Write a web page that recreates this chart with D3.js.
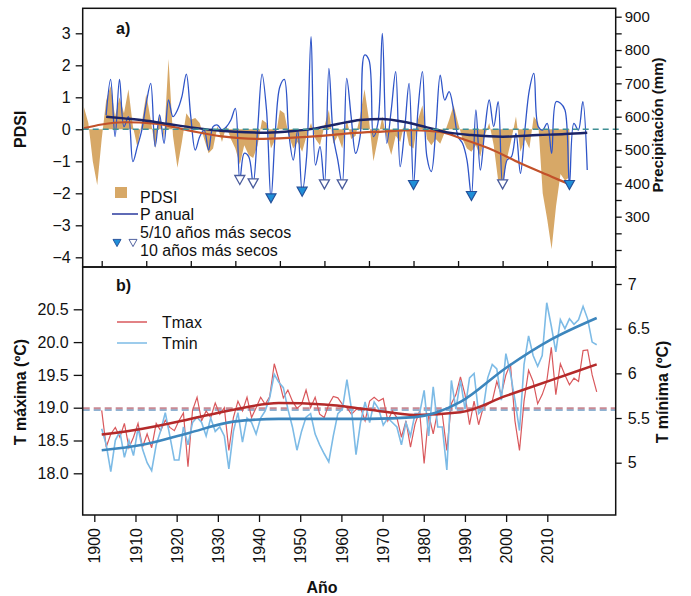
<!DOCTYPE html>
<html><head><meta charset="utf-8">
<script src="https://cdn.jsdelivr.net/npm/d3@7"></script>
<style>body{margin:0;background:#fff} svg{display:block} text{font-family:"Liberation Sans",Arial,sans-serif;fill:#111}</style>
</head><body><svg id="c" width="691" height="596"></svg>
<script>
// ---------------- DATA ----------------
const precipYears = d3.range(1901, 2010);
const precip = [605,712,540,712,570,600,465,510,560,640,700,510,605,520,650,600,620,660,728,600,
  500,540,560,500,570,575,560,570,590,625,410,490,480,400,560,728,620,355,560,690,
  712,550,470,560,375,480,840,455,510,397,745,540,470,397,715,600,490,540,785,770,
  540,580,850,520,620,735,450,560,700,395,620,735,480,435,560,725,650,675,620,540,
  520,470,362,620,440,560,650,570,645,397,470,480,550,430,560,680,730,570,560,580,
  490,645,640,620,395,580,560,645,440];
const pdsiYears = d3.range(1896, 2006);
const pdsi = [0.7,0.2,-1.0,-1.75,-0.3,0.9,1.35,0.4,1.0,0.5,1.25,0.1,-0.55,0.2,1.1,0.3,-0.6,0.5,-0.3,2.2,
  -0.2,-1.2,-0.4,0.5,0.3,0.35,0.2,-0.3,-0.75,-0.6,0.1,-0.4,0.1,-0.3,-0.6,-1.1,-0.5,-0.8,-0.9,-0.5,
  0.3,0.2,-0.6,-0.3,0.6,0.5,-0.2,-0.6,-0.4,-0.7,-0.2,0.2,-0.3,-0.5,0.1,0.6,-0.45,-0.2,-0.6,0.3,
  -0.3,-0.2,0.4,1.25,0.3,-1.0,-0.3,0.4,-0.3,-0.8,-0.2,-0.4,0.2,-0.5,-0.6,0.3,0.75,-0.3,-0.5,-0.3,
  -0.45,-0.1,0.3,0.75,0.2,-0.3,-0.6,-0.7,-0.5,-0.85,-0.2,0.2,-0.5,-1.6,-1.7,-0.9,-0.3,0.4,-0.7,-0.3,
  -0.6,0.4,0.2,-2.0,-2.8,-3.75,-2.4,-1.4,-1.6,-1.5];
const driest5 = [1938,1945,1970,1983,2005];
const driest10 = [1931,1934,1950,1954,1990];
const pSmoothYears = [1901,1905,1910,1915,1920,1925,1930,1937,1943,1948,1953,1958,1963,1968,1973,1978,1983,1990,1998,2004,2009];
const pSmooth = [600,595,588,578,568,560,555,552,557,565,578,590,593,584,568,552,545,540,545,548,552];
const pdsiSmoothYears = [1896,1900,1905,1912,1920,1927,1935,1943,1950,1956,1963,1970,1976,1981,1987,1994,2001,2005];
const pdsiSmooth = [0.03,0.15,0.22,0.18,-0.05,-0.22,-0.3,-0.26,-0.2,-0.12,-0.07,-0.03,-0.08,-0.3,-0.6,-1.06,-1.48,-1.72];

const tYears = d3.range(1901, 2011);
const tmax = [18.96,18.4,18.6,18.7,18.55,18.76,18.39,18.55,18.76,18.4,18.6,18.39,18.76,18.65,18.81,18.7,18.65,18.8,18.92,18.1,
  18.96,19.16,18.8,18.95,18.85,19.07,18.9,19.0,18.35,18.85,19.1,18.95,19.16,18.85,19.0,19.16,19.05,19.17,19.67,19.43,
  19.15,19.27,19.1,18.99,19.05,19.27,19.0,19.16,18.9,18.85,19.05,19.17,19.15,19.05,19.0,18.9,18.97,19.0,18.8,19.1,
  19.16,19.1,19.14,18.8,18.95,18.85,18.55,18.8,18.4,18.75,18.95,18.15,18.9,18.6,18.95,18.9,18.35,19.06,19.2,19.47,
  19.2,18.74,19.1,18.74,19.0,19.05,19.1,19.4,19.2,19.5,19.67,18.8,18.35,19.1,19.57,19.4,19.06,19.2,19.4,19.92,
  19.2,19.67,19.5,19.35,19.45,19.4,19.87,19.88,19.5,19.24];
const tmin = [5.38,5.2,4.9,5.25,5.35,5.06,5.25,5.08,5.39,5.15,5.0,4.91,5.2,5.36,5.56,5.3,5.03,5.03,5.4,5.2,
  5.45,5.51,5.45,5.3,5.5,5.35,5.4,5.3,4.93,5.35,5.56,5.23,5.5,5.45,5.32,5.5,5.58,5.73,5.99,5.9,
  5.84,5.6,5.4,5.14,5.35,5.51,5.55,5.32,5.2,5.1,5.01,5.3,5.55,5.6,5.93,5.6,5.09,5.45,5.68,5.45,
  5.68,5.6,5.42,5.5,5.45,5.4,5.2,5.45,5.3,5.55,5.55,5.81,5.3,5.85,5.4,5.4,4.92,5.92,5.6,5.92,
  5.6,5.95,6.0,5.55,5.6,5.95,6.1,6.05,5.7,6.22,6.0,5.7,5.36,6.1,6.42,6.2,6.08,6.2,6.79,6.53,
  6.24,6.6,6.5,6.61,6.55,6.6,6.75,6.61,6.35,6.32];
const tSmoothYears = [1901,1910,1920,1930,1940,1950,1960,1970,1980,1990,2000,2010];
const tmaxSmooth = [18.59,18.68,18.82,18.97,19.07,19.05,18.97,18.89,18.93,19.18,19.42,19.66];
const tminSmooth = [5.14,5.2,5.33,5.46,5.49,5.49,5.49,5.51,5.68,6.06,6.38,6.62];
const tmaxMean = [18.99];
const tminMean = [5.59];

const pdsiTicks = [3,2,1,0,-1,-2,-3,-4];
const precipTicks = [300,400,500,600,700,800,900];
const precipMinorTicks = d3.range(200, 901, 50);
const tmaxTicks = [18.0,18.5,19.0,19.5,20.0,20.5];
const tminTicks = [5,5.5,6,6.5,7];
const yearTicks = d3.range(1900, 2011, 10);

// ---------------- LAYOUT ----------------
const svg = d3.select("#c");
const L = 82.7, R = 615.7, aTop = 8.3, mid = 267, bBot = 515;
const FS = 16;

const xa = d3.scaleLinear().domain([1900, 2010]).range([101.7, 591.7]);
const yD = d3.scaleLinear().domain([-4, 3]).range([257.3, 33.3]);
const yP = d3.scaleLinear().domain([200, 900]).range([250, 16.7]);
const xb = d3.scaleLinear().domain([1901, 2010]).range([101.7, 596.7]);
const xt = d3.scaleLinear().domain([1900, 2010]).range([94.3, 547.3]);
const yTx = d3.scaleLinear().domain([18, 20.5]).range([473.3, 309.3]);
const yTn = d3.scaleLinear().domain([5, 7]).range([462.7, 284]);

svg.append("defs").append("clipPath").attr("id","ca").append("rect")
  .attr("x",L).attr("y",aTop).attr("width",R-L).attr("height",mid-aTop);
svg.select("defs").append("clipPath").attr("id","cb").append("rect")
  .attr("x",L).attr("y",mid).attr("width",R-L).attr("height",bBot-mid);

// ---------- Panel a ----------
const ga = svg.append("g").attr("clip-path","url(#ca)");
const pd = pdsiYears.map((y,i)=>({y, v:pdsi[i]}));
ga.append("path").datum(pd)
  .attr("d", d3.area().x(d=>xa(d.y)).y0(yD(0)).y1(d=>yD(d.v)))
  .attr("fill","#d7a867");

svg.append("line").attr("x1",L).attr("x2",621).attr("y1",yD(0)).attr("y2",yD(0))
  .attr("stroke","#3f8f94").attr("stroke-width",1.4).attr("stroke-dasharray","6,4");

const pp = precipYears.map((y,i)=>({y, v:precip[i]}));
ga.append("path").datum(pp)
  .attr("d", d3.line().x(d=>xa(d.y)).y(d=>yP(d.v)).curve(d3.curveCatmullRom.alpha(0.5)))
  .attr("fill","none").attr("stroke","#2f55c8").attr("stroke-width",1.3);

ga.append("path").datum(pdsiSmoothYears.map((y,i)=>({y,v:pdsiSmooth[i]})))
  .attr("d", d3.line().x(d=>xa(d.y)).y(d=>yD(d.v)).curve(d3.curveMonotoneX))
  .attr("fill","none").attr("stroke","#c2512a").attr("stroke-width",2.2);

ga.append("path").datum(pSmoothYears.map((y,i)=>({y,v:pSmooth[i]})))
  .attr("d", d3.line().x(d=>xa(d.y)).y(d=>yP(d.v)).curve(d3.curveMonotoneX))
  .attr("fill","none").attr("stroke","#1b2468").attr("stroke-width",2.4);

const tri = "M-5,-4.5L5,-4.5L0,4.5Z";
const pOf = y => precip[precipYears.indexOf(y)];
ga.selectAll(".d10").data(driest10).join("path")
  .attr("d", tri).attr("transform", d=>`translate(${xa(d)},${yP(pOf(d))})`)
  .attr("fill","#fff").attr("stroke","#4a5c9c").attr("stroke-width",1.3);
ga.selectAll(".d5").data(driest5).join("path")
  .attr("d", tri).attr("transform", d=>`translate(${xa(d)},${yP(pOf(d))})`)
  .attr("fill","#1f8fd8").attr("stroke","#24509a").attr("stroke-width",1.2);

// axes panel a
svg.append("g").attr("transform",`translate(${L},0)`)
  .call(d3.axisLeft(yD).tickValues(pdsiTicks).tickSize(7).tickPadding(5).tickFormat(d3.format("d")));
svg.append("g").attr("class","rax").attr("transform",`translate(${R},0)`)
  .call(d3.axisRight(yP).tickValues(precipMinorTicks).tickSize(6).tickPadding(3)
    .tickFormat(d => precipTicks.includes(d) ? d : ""));
svg.append("g").attr("transform",`translate(0,${mid})`)
  .call(d3.axisTop(xa).tickValues(yearTicks).tickSize(6).tickFormat(""));

// ---------- Panel b ----------
const gb = svg.append("g").attr("clip-path","url(#cb)");
gb.append("line").attr("x1",L).attr("x2",R).attr("y1",yTn(tminMean[0])).attr("y2",yTn(tminMean[0]))
  .attr("stroke","#8fb2d2").attr("stroke-width",2).attr("stroke-dasharray","7,4");
gb.append("line").attr("x1",L).attr("x2",R).attr("y1",yTx(tmaxMean[0])).attr("y2",yTx(tmaxMean[0]))
  .attr("stroke","#c98a94").attr("stroke-width",2).attr("stroke-dasharray","7,4");

gb.append("path").datum(tYears.map((y,i)=>({y,v:tmax[i]})))
  .attr("d", d3.line().x(d=>xb(d.y)).y(d=>yTx(d.v)))
  .attr("fill","none").attr("stroke","#d9585c").attr("stroke-width",1.2);
gb.append("path").datum(tYears.map((y,i)=>({y,v:tmin[i]})))
  .attr("d", d3.line().x(d=>xb(d.y)).y(d=>yTn(d.v)))
  .attr("fill","none").attr("stroke","#7dbbe6").attr("stroke-width",1.6);
gb.append("path").datum(tSmoothYears.map((y,i)=>({y,v:tmaxSmooth[i]})))
  .attr("d", d3.line().x(d=>xb(d.y)).y(d=>yTx(d.v)).curve(d3.curveMonotoneX))
  .attr("fill","none").attr("stroke","#b42a2a").attr("stroke-width",2.5);
gb.append("path").datum(tSmoothYears.map((y,i)=>({y,v:tminSmooth[i]})))
  .attr("d", d3.line().x(d=>xb(d.y)).y(d=>yTn(d.v)).curve(d3.curveMonotoneX))
  .attr("fill","none").attr("stroke","#3d86bd").attr("stroke-width",2.6);

svg.append("g").attr("transform",`translate(${L},0)`)
  .call(d3.axisLeft(yTx).tickValues(tmaxTicks).tickSize(9).tickPadding(5).tickFormat(d3.format(".1f")));
svg.append("g").attr("transform",`translate(${R},0)`)
  .call(d3.axisRight(yTn).tickValues(tminTicks).tickSize(6).tickPadding(6).tickFormat(d3.format("")));
const axB = svg.append("g").attr("transform",`translate(0,${bBot})`)
  .call(d3.axisBottom(xt).tickValues(yearTicks).tickSize(7).tickFormat(d3.format("d")));
axB.selectAll(".tick text").attr("transform","rotate(-90)").attr("text-anchor","end")
  .attr("x",-13).attr("y",0).attr("dy","0.35em");

// style axes
svg.selectAll(".domain").remove();
svg.selectAll(".tick line").attr("stroke","#111").attr("stroke-width",1.3);
svg.selectAll(".tick text").attr("font-size",FS).attr("fill","#111");
svg.selectAll(".rax .tick text").attr("font-size",15);

// frames
svg.append("rect").attr("x",L).attr("y",aTop).attr("width",R-L).attr("height",mid-aTop)
  .attr("fill","none").attr("stroke","#111").attr("stroke-width",1.5);
svg.append("rect").attr("x",L).attr("y",mid).attr("width",R-L).attr("height",bBot-mid)
  .attr("fill","none").attr("stroke","#111").attr("stroke-width",1.5);

// titles
svg.append("text").attr("transform",`translate(26,${yD(0)}) rotate(-90)`)
  .attr("text-anchor","middle").attr("font-weight","bold").attr("font-size",FS).text("PDSI");
svg.append("text").attr("transform",`translate(663,${yP(575)}) rotate(-90)`)
  .attr("text-anchor","middle").attr("font-weight","bold").attr("font-size",15).text("Precipitación (mm)");
svg.append("text").attr("transform",`translate(26,392) rotate(-90)`)
  .attr("text-anchor","middle").attr("font-weight","bold").attr("font-size",FS).text("T máxima (ºC)");
svg.append("text").attr("transform",`translate(668,392) rotate(-90)`)
  .attr("text-anchor","middle").attr("font-weight","bold").attr("font-size",FS).text("T mínima (ºC)");
svg.append("text").attr("x",322).attr("y",593).attr("text-anchor","middle")
  .attr("font-weight","bold").attr("font-size",FS).text("Año");
svg.append("text").attr("x",116).attr("y",34).attr("font-weight","bold").attr("font-size",FS).text("a)");
svg.append("text").attr("x",116).attr("y",291).attr("font-weight","bold").attr("font-size",FS).text("b)");

// legend a
const lg = svg.append("g");
lg.append("rect").attr("x",115).attr("y",187).attr("width",12).attr("height",11).attr("fill","#d7a867");
lg.append("line").attr("x1",112).attr("x2",138).attr("y1",214).attr("y2",214).attr("stroke","#2a3a9e").attr("stroke-width",1.5);
lg.append("path").attr("d",tri).attr("transform","translate(117,243) scale(0.8)")
  .attr("fill","#1f8fd8").attr("stroke","#24509a").attr("stroke-width",1.2);
lg.append("path").attr("d",tri).attr("transform","translate(133,243) scale(0.8)")
  .attr("fill","#fff").attr("stroke","#4a5c9c").attr("stroke-width",1.2);
const legA = ["PDSI","P anual","5/10 años más secos","10 años más secos"];
const legAy = [197,214,232,250];
lg.selectAll(".lt").data(legA).join("text").attr("x",140).attr("y",(d,i)=>legAy[i])
  .attr("dy","0.35em").attr("font-size",FS).text(d=>d);

// legend b
const legB = ["Tmax","Tmin"], legBc = ["#d9585c","#7dbbe6"], legBy = [322,343];
const lb = svg.append("g");
lb.selectAll("line").data(legB).join("line").attr("x1",117).attr("x2",147)
  .attr("y1",(d,i)=>legBy[i]).attr("y2",(d,i)=>legBy[i]).attr("stroke",(d,i)=>legBc[i]).attr("stroke-width",1.5);
lb.selectAll("text").data(legB).join("text").attr("x",162).attr("y",(d,i)=>legBy[i])
  .attr("dy","0.35em").attr("font-size",FS).text(d=>d);
</script></body></html>
